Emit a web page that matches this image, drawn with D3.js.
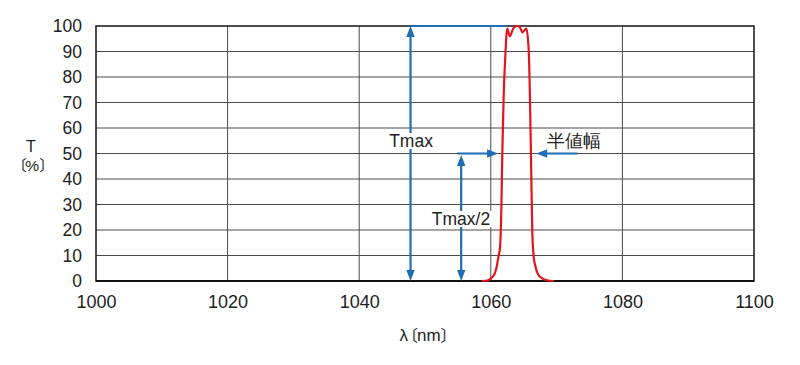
<!DOCTYPE html>
<html>
<head>
<meta charset="utf-8">
<script src="https://cdn.jsdelivr.net/npm/d3@7"></script>
<style>
  html, body { margin: 0; padding: 0; background: #fff; }
  svg { display: block; }
  text { font-family: "Liberation Sans", Arial, sans-serif; }
</style>
</head>
<body>
<svg id="chart" width="800" height="365"></svg>
<script>
// ---- data ----
const wavelength = [1058.6, 1059.6, 1060.1, 1060.6, 1060.9, 1061.15, 1061.4, 1061.6, 1061.75, 1061.95, 1062.2, 1062.5, 1062.9, 1063.4, 1064.0, 1064.4, 1064.8, 1065.4, 1065.75, 1065.95, 1066.1, 1066.3, 1066.5, 1066.8, 1067.2, 1067.7, 1068.5, 1069.6];
const transmission = [0, 0.3, 1.2, 3, 5.6, 9.5, 13, 28, 50, 72, 88, 99, 96, 99, 100, 99.6, 97.5, 99, 91, 72, 50, 20, 10, 5.5, 2.5, 1.2, 0.3, 0];
const xTicks = [1000, 1020, 1040, 1060, 1080, 1100];
const yTicks = [0, 10, 20, 30, 40, 50, 60, 70, 80, 90, 100];
// annotation positions (data units)
const tmaxX = 1047.8;
const halfX = 1055.5;
const halfLineStart = 1054.9;
const halfArrowTipLeft = 1061.1;
const halfArrowTipRight = 1066.9;
const halfArrowRightStart = 1073.2;
const tmaxLineEnd = 1062.4;
const tMax = 100;

// ---- layout ----
const svg = d3.select("#chart");
const margin = {left: 96, right: 46, top: 26, bottom: 84};
const W = 800, H = 365;
const x = d3.scaleLinear().domain([1000, 1100]).range([margin.left, W - margin.right]);
const y = d3.scaleLinear().domain([0, 100]).range([H - margin.bottom, margin.top]);

const blue = "#1f6db3";
const red = "#e3141b";
const cjk = "'Noto Sans CJK JP', 'Liberation Sans', sans-serif";
const latin = "'Liberation Sans', Arial, sans-serif";

// grid
svg.append("g").selectAll("line").data(yTicks.filter(d => d > 0 && d < 100)).join("line")
  .attr("x1", x(1000)).attr("x2", x(1100))
  .attr("y1", d => y(d)).attr("y2", d => y(d))
  .attr("stroke", "#4a4a4a").attr("stroke-width", 1);
svg.append("g").selectAll("line").data(xTicks.filter(d => d > 1000 && d < 1100)).join("line")
  .attr("x1", d => x(d)).attr("x2", d => x(d))
  .attr("y1", y(0)).attr("y2", y(100))
  .attr("stroke", "#4a4a4a").attr("stroke-width", 1);

// frame
svg.append("rect").attr("x", x(1000)).attr("y", y(100))
  .attr("width", x(1100) - x(1000)).attr("height", y(0) - y(100))
  .attr("fill", "none").attr("stroke", "#222").attr("stroke-width", 1.6);
svg.append("line").attr("x1", x(1000)).attr("x2", x(1100)).attr("y1", y(0)).attr("y2", y(0))
  .attr("stroke", "#111").attr("stroke-width", 2.2);

// axes
const yAxis = d3.axisLeft(y).tickValues(yTicks).tickSize(0).tickPadding(14);
const gy = svg.append("g").attr("transform", `translate(${x(1000)},0)`).call(yAxis);
gy.select(".domain").remove();
gy.selectAll("text").attr("font-size", 17.5).attr("fill", "#222").attr("font-family", latin);

const xAxis = d3.axisBottom(x).tickValues(xTicks).tickSize(0).tickPadding(14).tickFormat(d3.format("d"));
const gx = svg.append("g").attr("transform", `translate(0,${y(0)})`).call(xAxis);
gx.select(".domain").remove();
gx.selectAll("text").attr("font-size", 18).attr("fill", "#222").attr("font-family", latin);

// axis titles
svg.append("text").attr("x", 31).attr("y", 152).attr("text-anchor", "middle")
  .attr("font-size", 16).attr("fill", "#222").text("T");

function multiText(cx, baseY, parts) {
  const t = svg.append("text").attr("y", baseY).attr("fill", "#222").attr("font-family", latin);
  parts.forEach(p => {
    t.append("tspan").attr("dx", p.dx || 0).attr("font-size", p.size)
      .attr("font-family", p.cjk ? cjk : latin).text(p.s);
  });
  const bb = t.node().getBBox();
  t.attr("x", cx - bb.width / 2 - bb.x);
  return t;
}
multiText(33, 171, [
  {s: "〔", cjk: true, size: 15, dx: 0},
  {s: "%", size: 15.5, dx: -1.5},
  {s: "〕", cjk: true, size: 15, dx: 0}
]);
multiText(428, 341, [
  {s: "λ", size: 17, dx: 0},
  {s: "〔", cjk: true, size: 16, dx: -6},
  {s: "nm", size: 17, dx: -1},
  {s: "〕", cjk: true, size: 16, dx: 0}
]);

// ---- blue annotations ----
const ann = svg.append("g");
function arrowHead(px, py, dir) {
  const L = 11, w = 4.2;
  let pts;
  if (dir === "up") pts = [[px, py], [px - w, py + L], [px + w, py + L]];
  if (dir === "down") pts = [[px, py], [px - w, py - L], [px + w, py - L]];
  if (dir === "right") pts = [[px, py], [px - L, py - w], [px - L, py + w]];
  if (dir === "left") pts = [[px, py], [px + L, py - w], [px + L, py + w]];
  ann.append("path").attr("d", d3.line()(pts) + "Z").attr("fill", blue);
}
function seg(x1, y1, x2, y2) {
  ann.append("line").attr("x1", x1).attr("y1", y1).attr("x2", x2).attr("y2", y2)
    .attr("stroke", blue).attr("stroke-width", 2.2);
}
seg(x(tmaxX) - 1, y(tMax), x(tmaxLineEnd), y(tMax));
seg(x(tmaxX), y(tMax) + 8, x(tmaxX), y(0) - 8);
arrowHead(x(tmaxX), y(tMax), "up");
arrowHead(x(tmaxX), y(0), "down");
seg(x(halfLineStart), y(tMax / 2), x(halfArrowTipLeft) - 8, y(tMax / 2));
arrowHead(x(halfArrowTipLeft), y(tMax / 2), "right");
seg(x(halfX), y(tMax / 2) + 8, x(halfX), y(0) - 8);
arrowHead(x(halfX), y(tMax / 2) + 1.5, "up");
arrowHead(x(halfX), y(0), "down");
seg(x(halfArrowRightStart), y(tMax / 2), x(halfArrowTipRight) + 8, y(tMax / 2));
arrowHead(x(halfArrowTipRight), y(tMax / 2), "left");

function label(txt, cx, cy, size, family) {
  const t = svg.append("text").attr("x", cx).attr("y", cy).attr("text-anchor", "middle")
    .attr("dominant-baseline", "central").attr("font-size", size).attr("fill", "#222")
    .attr("font-family", family || latin).text(txt);
  const bb = t.node().getBBox();
  svg.insert("rect", () => t.node()).attr("x", bb.x - 2).attr("y", bb.y + 2)
    .attr("width", bb.width + 4).attr("height", bb.height - 4).attr("fill", "#fff");
}
label("Tmax", 411, 141, 17.5);
label("Tmax/2", 461, 219, 17.5);
label("半値幅", 574, 141, 17.5, cjk);

// ---- red curve ----
const pts = wavelength.map((w, i) => [w, transmission[i]]);
svg.append("path").datum(pts)
  .attr("d", d3.line().x(d => x(d[0])).y(d => y(d[1])).curve(d3.curveMonotoneX))
  .attr("fill", "none").attr("stroke", red).attr("stroke-width", 2.2);
</script>
</body>
</html>
